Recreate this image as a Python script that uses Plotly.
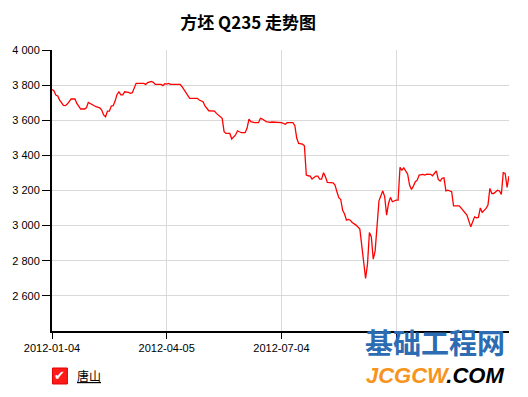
import plotly.graph_objects as go

# trading-day index (category position) and price values
day_index = [0, 1, 2, 3, 4, 6, 7, 8, 10, 12, 13, 15, 17, 18, 19, 21, 23, 25, 26, 27,
             28, 29, 30, 31, 32, 33, 34, 35, 36, 37, 38, 40, 41, 42, 43, 44, 48, 49, 50, 52,
             53, 54, 57, 58, 59, 60, 61, 62, 63, 67, 68, 69, 70, 72, 76, 77, 79, 80, 82, 85,
             86, 89, 90, 91, 93, 94, 96, 97, 99, 101, 102, 103, 104, 106, 108, 109, 110, 112, 114, 115,
             120, 122, 123, 126, 127, 128, 129, 131, 132, 133, 134, 135, 136, 138, 139, 140, 141, 142, 143, 144,
             147, 148, 149, 150, 151, 152, 153, 154, 155, 156, 157, 159, 161, 163, 164, 165, 166, 167, 168, 169,
             170, 171, 173, 174, 175, 176, 177, 178, 180, 181, 182, 183, 184, 185, 186, 187, 188, 189, 190, 191,
             192, 194, 195, 196, 198, 199, 201, 202, 203, 204, 205, 206, 207, 209, 210, 213, 215, 216, 217, 219,
             221, 222, 223, 224, 225, 227, 228, 229, 230, 231, 233, 234, 235, 236, 237, 238, 239]
price = [3775, 3768, 3744, 3738, 3715, 3685, 3683, 3692, 3721, 3721, 3696, 3664, 3664, 3671, 3702, 3687, 3677, 3671, 3658, 3630,
         3620, 3652, 3652, 3681, 3683, 3709, 3747, 3762, 3744, 3744, 3762, 3759, 3753, 3757, 3782, 3810, 3810, 3804, 3814, 3821,
         3816, 3804, 3804, 3797, 3808, 3806, 3810, 3804, 3804, 3804, 3791, 3776, 3759, 3725, 3725, 3715, 3706, 3681, 3654, 3652,
         3639, 3611, 3535, 3525, 3525, 3493, 3516, 3540, 3529, 3529, 3554, 3607, 3592, 3586, 3586, 3611, 3607, 3592, 3588, 3590,
         3586, 3577, 3586, 3586, 3569, 3497, 3468, 3464, 3455, 3288, 3284, 3282, 3265, 3282, 3282, 3265, 3265, 3301, 3278, 3246,
         3244, 3231, 3193, 3159, 3149, 3088, 3066, 3031, 3035, 3031, 3018, 3003, 2980, 2803, 2699, 2781, 2961, 2936, 2809, 2856,
         3031, 3141, 3198, 3164, 3060, 3126, 3161, 3136, 3145, 3145, 3332, 3316, 3329, 3312, 3293, 3231, 3206, 3225, 3250, 3259,
         3288, 3292, 3288, 3293, 3292, 3284, 3312, 3263, 3254, 3269, 3272, 3198, 3202, 3193, 3113, 3113, 3084, 3075, 3060, 2993,
         3050, 3044, 3047, 3101, 3075, 3098, 3117, 3212, 3183, 3183, 3202, 3197, 3178, 3301, 3297, 3217, 3282]

x_tick_pos = [0, 60, 120, 180]
# the fourth date label is hidden behind the watermark logo in the reference
x_tick_labels = ["2012-01-04", "2012-04-05", "2012-07-04", ""]
y_tick_vals = [2600, 2800, 3000, 3200, 3400, 3600, 3800, 4000]
series_name = "唐山"
title_text = "方坯 Q235 走势图"

fig = go.Figure()
fig.add_trace(go.Scatter(x=day_index, y=price, mode="lines", name=series_name,
                         line=dict(color="#ff0000", width=1.3), showlegend=False))

base_font = "Liberation Sans, Arial, sans-serif"
cjk_font = "Noto Sans CJK SC, sans-serif"

fig.update_layout(
    width=528, height=397,
    margin=dict(l=49, r=19, t=50, b=66),
    paper_bgcolor="white", plot_bgcolor="white",
    separators=". ",
    font=dict(family=base_font, size=11, color="#000"),
    title=dict(text="<b>" + title_text + "</b>", x=0.47, xanchor="center",
               y=1 - 23 / 397, yanchor="middle", yref="container",
               font=dict(family=cjk_font, size=17, color="#000")),
    xaxis=dict(range=[0, 239], tickmode="array", tickvals=x_tick_pos, ticktext=x_tick_labels,
               showgrid=True, gridcolor="#d9d9d9", gridwidth=1,
               showline=True, linecolor="#000", linewidth=2,
               ticks="outside", ticklen=6, tickcolor="#000", tickwidth=1,
               zeroline=False, tickfont=dict(size=11, color="#000")),
    yaxis=dict(range=[2400, 4000], tickmode="array", tickvals=y_tick_vals, tickformat=",d",
               showgrid=True, gridcolor="#d9d9d9", gridwidth=1,
               showline=True, linecolor="#000", linewidth=2,
               ticks="outside", ticklen=8, tickcolor="#000", tickwidth=1,
               zeroline=False, tickfont=dict(size=11, color="#000")),
)

# custom legend: red checkbox + underlined label
fig.add_shape(type="rect", xref="paper", yref="paper",
              x0=0.001, x1=0.0337, y0=-0.1886, y1=-0.1317,
              fillcolor="#ff1a1a", line=dict(color="#e00000", width=1))
fig.add_annotation(xref="paper", yref="paper", x=0.0175, y=-0.160, text="✔",
                   showarrow=False, font=dict(size=13, color="white", family="DejaVu Sans"),
                   xanchor="center", yanchor="middle")
fig.add_annotation(xref="paper", yref="paper", x=0.05, y=-0.160, text="<u>" + series_name + "</u>",
                   showarrow=False, font=dict(size=12, color="#000", family=cjk_font),
                   xanchor="left", yanchor="middle")

# watermark logo text
fig.add_annotation(xref="paper", yref="paper", x=0.838, y=(331 - 342) / 281, text="<b>基础工程网</b>",
                   showarrow=False, font=dict(size=28, color="#2b6cb3", family=cjk_font),
                   xanchor="center", yanchor="middle", borderpad=0)
fig.add_annotation(xref="paper", yref="paper", x=0.838, y=(331 - 375) / 281,
                   text="<b><i><span style='color:#f7941d'>JCGCW</span>.COM</i></b>",
                   showarrow=False, font=dict(size=22, color="#000", family="Liberation Sans, Arial"),
                   xanchor="center", yanchor="middle", borderpad=0)

fig.write_html("out.html")
